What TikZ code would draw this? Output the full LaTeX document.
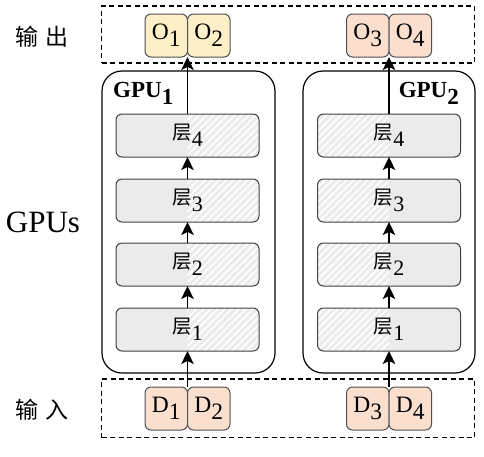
\documentclass[tikz,border=0pt]{standalone}
\usepackage{fontspec}
\setmainfont{Liberation Serif}
\newfontfamily\cjk{Noto Sans CJK SC}
\usetikzlibrary{arrows.meta,patterns.meta}
\newcommand\lowsub[1]{\raisebox{-7pt}{#1}}
\definecolor{ofill}{HTML}{FDEFC8}
\definecolor{pfill}{HTML}{FADFCF}
\definecolor{lfill}{HTML}{EBEBEB}
\definecolor{bgray}{HTML}{505050}
\definecolor{lgray}{HTML}{404040}
\begin{document}
\begin{tikzpicture}[x=1pt,y=-1pt,
  tok/.style={draw=bgray, line width=1pt, rounded corners=6pt, minimum width=42.5pt,
    minimum height=43pt, inner sep=0pt, outer sep=0pt, font=\fontsize{23.5}{23.5}\selectfont},
  layerbox/.style={draw=lgray, fill=lfill, line width=1pt, rounded corners=6pt,
    minimum width=143pt, minimum height=43pt, inner sep=0pt, outer sep=0pt,
    font=\fontsize{22}{22}\selectfont},
  hatchR/.style={path picture={\fill[pattern={Lines[angle=45,distance=5pt,line width=1.6pt]},pattern color=white]
    (path picture bounding box.south) rectangle (path picture bounding box.north east);}},
  hatchL/.style={path picture={\fill[pattern={Lines[angle=45,distance=5pt,line width=1.6pt]},pattern color=white]
    (path picture bounding box.south west) rectangle (path picture bounding box.north);}},
  gpubox/.style={draw=black, line width=1.2pt, rounded corners=20pt, inner sep=0pt, outer sep=0pt},
  dbox/.style={draw=black, line width=1.2pt, dash pattern=on 5pt off 3.5pt, inner sep=0pt, outer sep=0pt},
  arr/.style={line width=1.5pt, -{Stealth[length=13pt,width=12.5pt,inset=3pt]}},
  side/.style={font=\fontsize{23}{23}\selectfont\cjk},
  gpulabel/.style={font=\fontsize{23}{23}\selectfont\bfseries, inner sep=0pt}
]
\useasboundingbox (0,0) rectangle (484,456);

% dashed frames
\node[dbox, minimum width=373pt, minimum height=57pt] (top) at (288,34.5) {};
\node[dbox, minimum width=373pt, minimum height=58.5pt] (bot) at (288,408.25) {};

% GPU frames
\node[gpubox, minimum width=173pt, minimum height=302pt] (g1) at (188.5,222) {};
\node[gpubox, minimum width=172pt, minimum height=302pt] (g2) at (389,222) {};
\node[gpulabel, anchor=base west] (g1l) at (113,97) {GPU\lowsub{1}};
\node[gpulabel, anchor=base east] (g2l) at (459,97) {GPU\lowsub{2}};

% side labels
\node[side] (lout) at (42,37) {输\hspace{7pt}出};
\node[font=\fontsize{31}{31}\selectfont] (lgpu) at (43,222) {GPUs};
\node[side] (lin) at (42,410) {输\hspace{7pt}入};

% outputs
\node[tok, fill=ofill] (o1) at (166.25,35.5) {O\lowsub{1}};
\node[tok, fill=ofill] (o2) at (208.75,35.5) {O\lowsub{2}};
\node[tok, fill=pfill] (o3) at (367.75,35.5) {O\lowsub{3}};
\node[tok, fill=pfill] (o4) at (410.25,35.5) {O\lowsub{4}};

% inputs
\node[tok, fill=pfill] (d1) at (166.25,408.5) {D\lowsub{1}};
\node[tok, fill=pfill] (d2) at (208.75,408.5) {D\lowsub{2}};
\node[tok, fill=pfill] (d3) at (367.75,408.5) {D\lowsub{3}};
\node[tok, fill=pfill] (d4) at (410.25,408.5) {D\lowsub{4}};

% layers GPU1
\node[layerbox, hatchR] (a4) at (187.5,135.5) {{\cjk\fontsize{19.5}{19.5}\selectfont 层}\lowsub{4}};
\node[layerbox, hatchR] (a3) at (187.5,200.5) {{\cjk\fontsize{19.5}{19.5}\selectfont 层}\lowsub{3}};
\node[layerbox, hatchR] (a2) at (187.5,264.5) {{\cjk\fontsize{19.5}{19.5}\selectfont 层}\lowsub{2}};
\node[layerbox, hatchR] (a1) at (187.5,329.5) {{\cjk\fontsize{19.5}{19.5}\selectfont 层}\lowsub{1}};

% layers GPU2
\node[layerbox, hatchL] (b4) at (389,135.5) {{\cjk\fontsize{19.5}{19.5}\selectfont 层}\lowsub{4}};
\node[layerbox, hatchL] (b3) at (389,200.5) {{\cjk\fontsize{19.5}{19.5}\selectfont 层}\lowsub{3}};
\node[layerbox, hatchL] (b2) at (389,264.5) {{\cjk\fontsize{19.5}{19.5}\selectfont 层}\lowsub{2}};
\node[layerbox, hatchL] (b1) at (389,329.5) {{\cjk\fontsize{19.5}{19.5}\selectfont 层}\lowsub{1}};

% arrows
\draw[arr] (d1.north east) -- (a1.south);
\draw[arr] (a1.north) -- (a2.south);
\draw[arr] (a2.north) -- (a3.south);
\draw[arr] (a3.north) -- (a4.south);
\draw[arr] (a4.north) -- (o1.south east);

\draw[arr] (d3.north east) -- (b1.south);
\draw[arr] (b1.north) -- (b2.south);
\draw[arr] (b2.north) -- (b3.south);
\draw[arr] (b3.north) -- (b4.south);
\draw[arr] (b4.north) -- (o3.south east);
\end{tikzpicture}
\end{document}
